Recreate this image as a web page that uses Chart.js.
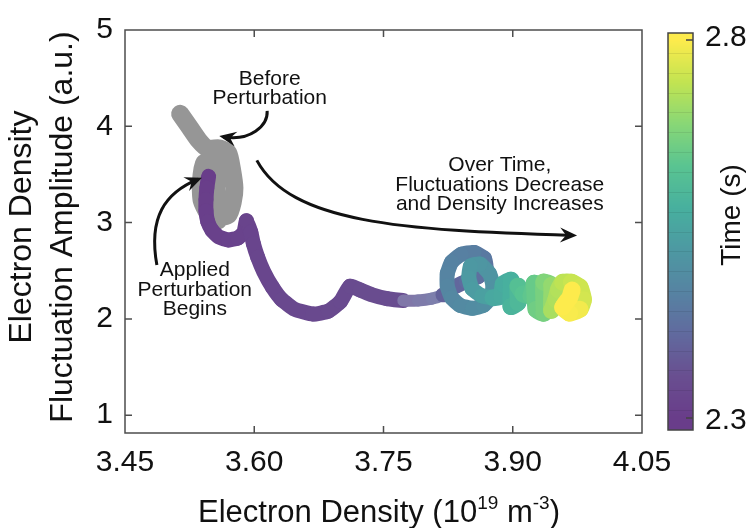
<!DOCTYPE html>
<html>
<head>
<meta charset="utf-8">
<script src="https://cdn.jsdelivr.net/npm/chart.js@4.4.0/dist/chart.umd.min.js"></script>
<style>
  body { margin: 0; background: #fff; }
  #wrap { width: 753px; height: 528px; }
</style>
</head>
<body>
<div id="wrap"><canvas id="myChart"></canvas></div>
<script>
// axis ticks
const X_TICKS = [3.45, 3.60, 3.75, 3.90, 4.05];
const Y_TICKS = [1, 2, 3, 4, 5];
const TIME_MIN = 2.3;
const TIME_MAX = 2.8;

// before perturbation (grey trace)
const PRE_DENSITY = [3.514, 3.525, 3.536, 3.546, 3.560, 3.570, 3.574, 3.577, 3.575, 3.570,
    3.558, 3.556, 3.556, 3.556, 3.542, 3.538, 3.539, 3.546, 3.558];
const PRE_AMPLITUDE = [4.13, 3.99, 3.85, 3.77, 3.77, 3.72, 3.56, 3.36, 3.21, 3.08,
    3.06, 3.26, 3.46, 3.64, 3.62, 3.41, 3.23, 3.10, 3.02];

// after the perturbation is applied, coloured by time
const DENSITY = [3.547, 3.545, 3.544, 3.544, 3.546, 3.551, 3.559, 3.570, 3.581, 3.588, 3.591, 3.596, 3.599,
    3.604, 3.611, 3.621, 3.632, 3.647, 3.668, 3.686, 3.700, 3.711, 3.723, 3.737, 3.754, 3.773,
    3.790, 3.806, 3.819,
    3.832, 3.846, 3.860, 3.869, 3.867, 3.855, 3.840, 3.829, 3.824, 3.824, 3.829, 3.839, 3.853,
    3.866, 3.875, 3.877, 3.873, 3.862, 3.851, 3.849, 3.853, 3.864, 3.877,
    3.887, 3.889, 3.898, 3.898, 3.906, 3.906, 3.912,
    3.921, 3.925, 3.927, 3.936, 3.936, 3.945, 3.945, 3.950,
    3.953, 3.958, 3.968, 3.978, 3.982, 3.978, 3.966, 3.958, 3.966, 3.969];
const AMPLITUDE = [3.48, 3.36, 3.24, 3.12, 3.01, 2.92, 2.85, 2.82, 2.84, 2.90, 3.02, 2.90, 2.78,
    2.64, 2.49, 2.33, 2.20, 2.10, 2.05, 2.08, 2.18, 2.34, 2.30, 2.25, 2.21, 2.19,
    2.19, 2.21, 2.25,
    2.33, 2.39, 2.44, 2.53, 2.63, 2.69, 2.67, 2.59, 2.47, 2.34, 2.22, 2.14, 2.11,
    2.14, 2.23, 2.35, 2.47, 2.57, 2.55, 2.43, 2.31, 2.24, 2.22,
    2.24, 2.36, 2.40, 2.13, 2.17, 2.34, 2.26,
    2.24, 2.37, 2.10, 2.06, 2.38, 2.35, 2.09, 2.20,
    2.30, 2.38, 2.38, 2.33, 2.20, 2.10, 2.06, 2.12, 2.22, 2.30];
const TIME = [2.300, 2.302, 2.304, 2.306, 2.308, 2.310, 2.312, 2.314, 2.316, 2.318, 2.320, 2.322, 2.324,
    2.326, 2.328, 2.330, 2.332, 2.334, 2.336, 2.338, 2.340, 2.342, 2.344, 2.346, 2.348, 2.350,
    2.360, 2.370, 2.380,
    2.395, 2.405, 2.415, 2.425, 2.435, 2.445, 2.455, 2.460, 2.465, 2.470, 2.475, 2.480, 2.485,
    2.490, 2.495, 2.500, 2.505, 2.510, 2.515, 2.520, 2.525, 2.530, 2.540,
    2.560, 2.565, 2.570, 2.580, 2.590, 2.600, 2.620,
    2.630, 2.640, 2.650, 2.660, 2.670, 2.680, 2.700, 2.720,
    2.725, 2.730, 2.740, 2.750, 2.755, 2.760, 2.790, 2.795, 2.800, 2.800];

// text notes and arrows, in data units
const NOTES = [
    { text: ['Before', 'Perturbation'], x: 3.618, y: 4.39 },
    { text: ['Over Time,', 'Fluctuations Decrease', 'and Density Increases'], x: 3.885, y: 3.39 },
    { text: ['Applied', 'Perturbation', 'Begins'], x: 3.531, y: 2.30 }
];
const ARROWS = [
    [[3.615, 4.16], [3.616, 4.005], [3.595, 3.841], [3.564, 3.892]],
    [[3.487, 2.559], [3.477, 3.051], [3.496, 3.308], [3.535, 3.451]],
    [[3.603, 3.646], [3.642, 3.0], [3.769, 2.918], [3.970, 2.867]]
];

const FONT = "'Liberation Sans', Arial, sans-serif";

// viridis-like map, a little washed out like the original
const VIRIDIS = [[72, 18, 112], [72, 40, 120], [62, 73, 137], [49, 104, 142], [38, 130, 142],
    [31, 158, 137], [53, 183, 121], [110, 206, 88], [181, 222, 43], [253, 231, 37]];

function timeColor(t, wash) {
    wash = wash || 0.18;
    var f = (t - TIME_MIN) / (TIME_MAX - TIME_MIN);
    f = Math.max(0, Math.min(1, f)) * (VIRIDIS.length - 1);
    var i = Math.min(Math.floor(f), VIRIDIS.length - 2);
    var k = f - i;
    var rgb = VIRIDIS[i].map((v, j) => Math.round((v + (VIRIDIS[i + 1][j] - v) * k) * (1 - wash) + 255 * wash));
    return 'rgb(' + rgb.join(',') + ')';
}

// thinner, paler markers where the density moves fast
function isSparse(t) {
    return t > 2.355 && t < 2.39;
}

function drawArrow(c, p) {
    c.beginPath();
    c.moveTo(p[0][0], p[0][1]);
    c.bezierCurveTo(p[1][0], p[1][1], p[2][0], p[2][1], p[3][0], p[3][1]);
    c.stroke();
    var dx = p[3][0] - p[2][0], dy = p[3][1] - p[2][1];
    var len = Math.hypot(dx, dy);
    dx /= len; dy /= len;
    var tx = p[3][0] + dx * 4, ty = p[3][1] + dy * 4;
    var L = 17, W = 7.5;
    c.beginPath();
    c.moveTo(tx, ty);
    c.lineTo(tx - dx * L - dy * W, ty - dy * L + dx * W);
    c.lineTo(tx - dx * L * 0.65, ty - dy * L * 0.65);
    c.lineTo(tx - dx * L + dy * W, ty - dy * L - dx * W);
    c.closePath();
    c.fill();
}

const overlay = {
    id: 'overlay',
    afterDatasetsDraw(chart) {
        var c = chart.ctx, a = chart.chartArea;
        var xs = chart.scales.x, ys = chart.scales.y;
        c.save();
        // box with inward ticks
        c.strokeStyle = '#4d4d4d';
        c.lineWidth = 1.5;
        c.strokeRect(a.left, a.top, a.right - a.left, a.bottom - a.top);
        c.beginPath();
        X_TICKS.forEach(v => {
            var x = xs.getPixelForValue(v);
            if (x < a.left + 2 || x > a.right - 2) return;
            c.moveTo(x, a.bottom); c.lineTo(x, a.bottom - 7);
            c.moveTo(x, a.top); c.lineTo(x, a.top + 7);
        });
        Y_TICKS.forEach(v => {
            var y = ys.getPixelForValue(v);
            if (y < a.top + 2 || y > a.bottom - 2) return;
            c.moveTo(a.left, y); c.lineTo(a.left + 7, y);
            c.moveTo(a.right, y); c.lineTo(a.right - 7, y);
        });
        c.stroke();

        // notes
        c.fillStyle = '#111';
        c.font = '21px ' + FONT;
        c.textAlign = 'center';
        c.textBaseline = 'middle';
        NOTES.forEach(n => {
            var x = xs.getPixelForValue(n.x), y = ys.getPixelForValue(n.y);
            n.text.forEach((t, i) => c.fillText(t, x, y + (i - (n.text.length - 1) / 2) * 19.5));
        });

        // arrows
        c.strokeStyle = '#111';
        c.lineWidth = 3;
        ARROWS.forEach(ar => drawArrow(c, ar.map(p => [xs.getPixelForValue(p[0]), ys.getPixelForValue(p[1])])));
        c.restore();
    },
    afterDraw(chart) {
        var c = chart.ctx, a = chart.chartArea;
        c.save();
        // colour bar
        var cbL = a.right + 26, cbW = 25, cbT = a.top + 3, cbB = a.bottom - 3;
        var tTop = cbT + 7, tBot = cbB - 12;
        for (var y = cbT; y < cbB; y++) {
            var t = TIME_MIN + (tBot - (y + 0.5)) / (tBot - tTop) * (TIME_MAX - TIME_MIN);
            c.fillStyle = timeColor(t);
            c.fillRect(cbL, y, cbW, 1);
        }
        c.strokeStyle = 'rgba(0,0,0,0.08)';
        c.lineWidth = 1;
        c.beginPath();
        for (var i = 1; i < 20; i++) {
            var yy = Math.round(cbT + i * (cbB - cbT) / 20) + 0.5;
            c.moveTo(cbL, yy); c.lineTo(cbL + cbW, yy);
        }
        c.stroke();
        c.strokeStyle = '#444';
        c.lineWidth = 1.5;
        c.strokeRect(cbL, cbT, cbW, cbB - cbT);
        c.beginPath();
        c.moveTo(cbL + cbW - 7, tTop); c.lineTo(cbL + cbW, tTop);
        c.moveTo(cbL + cbW - 7, tBot); c.lineTo(cbL + cbW, tBot);
        c.stroke();

        c.fillStyle = '#111';
        c.font = '30px ' + FONT;
        c.textAlign = 'left';
        c.textBaseline = 'middle';
        c.fillText(TIME_MAX.toFixed(1), cbL + cbW + 12, tTop - 2);
        c.fillText(TIME_MIN.toFixed(1), cbL + cbW + 12, tBot + 3);

        c.save();
        c.translate(cbL + cbW + 39, a.top + 185);
        c.rotate(-Math.PI / 2);
        c.textAlign = 'center';
        c.font = '28px ' + FONT;
        c.fillText('Time (s)', 0, 0);
        c.restore();

        // y title, two lines
        c.save();
        c.translate(0, a.top + 197);
        c.rotate(-Math.PI / 2);
        c.textAlign = 'center';
        c.font = '32px ' + FONT;
        c.fillText('Electron Density', 0, 22);
        c.fillText('Fluctuation Amplitude (a.u.)', 0, 63);
        c.restore();

        // x title with superscripts
        var parts = [['Electron Density (10', 0], ['19', 1], [' m', 0], ['-3', 1], [')', 0]];
        var big = '31px ' + FONT, small = '19px ' + FONT;
        var total = 0;
        parts.forEach(p => { c.font = p[1] ? small : big; total += c.measureText(p[0]).width; });
        var x = 379 - total / 2, base = chart.height - 6;
        c.textAlign = 'left';
        c.textBaseline = 'alphabetic';
        parts.forEach(p => {
            c.font = p[1] ? small : big;
            c.fillText(p[0], x, p[1] ? base - 13 : base);
            x += c.measureText(p[0]).width;
        });
        c.restore();
    }
};

var ctx = document.getElementById('myChart').getContext('2d');
var myChart = new Chart(ctx, {
    type: 'scatter',
    data: {
        datasets: [
            {
                label: 'before',
                order: 2,
                data: PRE_DENSITY.map((x, i) => ({ x: x, y: PRE_AMPLITUDE[i] })),
                showLine: true,
                borderColor: 'rgb(150,150,150)',
                borderWidth: 18,
                borderCapStyle: 'round',
                borderJoinStyle: 'round',
                pointRadius: 0,
                tension: 0.2
            },
            {
                label: 'after',
                order: 1,
                data: DENSITY.map((x, i) => ({ x: x, y: AMPLITUDE[i] })),
                showLine: true,
                borderColor: timeColor(TIME[0]),
                borderWidth: 15,
                borderCapStyle: 'round',
                borderJoinStyle: 'round',
                pointRadius: 0,
                tension: 0.15,
                segment: {
                    borderColor: s => {
                        var t = TIME[s.p1DataIndex];
                        return isSparse(t) ? timeColor(t + 0.02, 0.32) : timeColor(t);
                    },
                    borderWidth: s => {
                        var t = TIME[s.p1DataIndex];
                        if (isSparse(t)) return 12;
                        return t >= 2.55 ? 17 : 15;
                    }
                }
            }
        ]
    },
    options: {
        responsive: true,
        maintainAspectRatio: false,
        animation: false,
        layout: { padding: { top: 25, right: 111, bottom: 0, left: 0 } },
        plugins: {
            legend: { display: false },
            tooltip: { enabled: false }
        },
        scales: {
            x: {
                type: 'linear',
                min: 3.45,
                max: 4.05,
                afterBuildTicks: s => { s.ticks = X_TICKS.map(v => ({ value: v })); },
                afterFit: s => { s.height = 95; },
                grid: { display: false, drawTicks: false },
                border: { display: false },
                ticks: {
                    padding: 12,
                    color: '#111',
                    maxRotation: 0,
                    autoSkip: false,
                    font: { family: FONT, size: 30 },
                    callback: v => v.toFixed(2)
                }
            },
            y: {
                type: 'linear',
                min: 0.815,
                max: 5,
                afterBuildTicks: s => { s.ticks = Y_TICKS.map(v => ({ value: v })); },
                afterFit: s => { s.width = 125; },
                grid: { display: false, drawTicks: false },
                border: { display: false },
                ticks: {
                    padding: 12,
                    color: '#111',
                    font: { family: FONT, size: 30 },
                    callback: v => String(v)
                }
            }
        }
    },
    plugins: [overlay]
});
</script>
</body>
</html>
